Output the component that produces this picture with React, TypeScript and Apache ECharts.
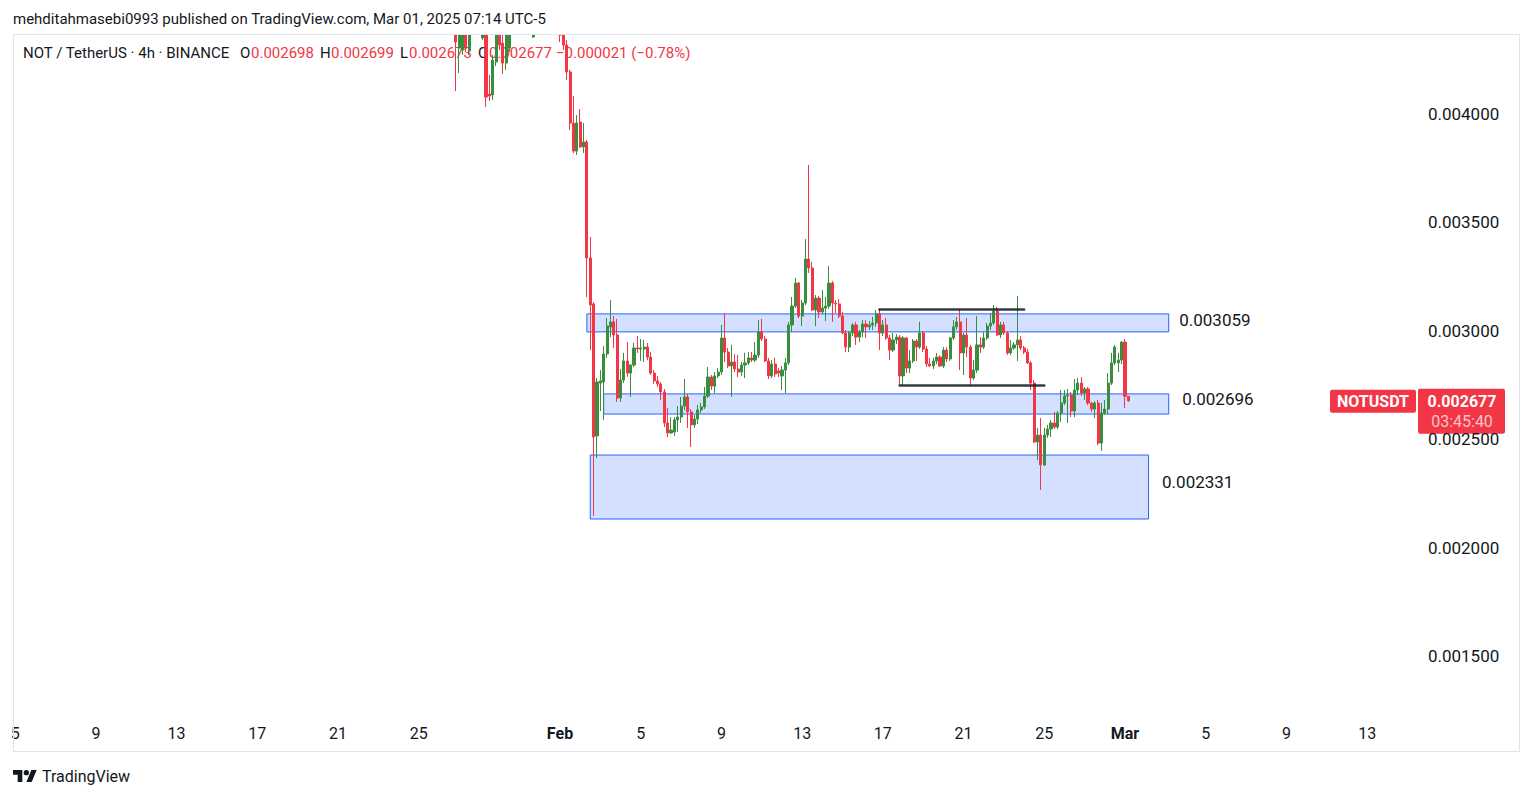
import React, { useEffect, useRef } from 'react';
import * as echarts from 'echarts';

const FONT = "Roboto, 'Noto Sans', 'DejaVu Sans', sans-serif";
const UP = '#388e3c';
const DOWN = '#f23645';
const TEXT = '#131722';

// 4h slots, first slot = Jan 5 2025 03:00 (UTC-5 session)
const SLOT_START_MS = Date.UTC(2025, 0, 5, 3, 0);
const SLOT_MS = 4 * 3600 * 1000;
const SLOT_COUNT = 417;
const CATEGORIES: string[] = Array.from({ length: SLOT_COUNT }, (_, i) =>
  new Date(SLOT_START_MS + i * SLOT_MS).toISOString().slice(0, 16).replace('T', ' ')
);

const X_TICKS: [number, string][] = [
  [0, '5'], [24, '9'], [48, '13'], [72, '17'], [96, '21'], [120, '25'],
  [162, 'Feb'], [186, '5'], [210, '9'], [234, '13'], [258, '17'], [282, '21'], [306, '25'],
  [330, 'Mar'], [354, '5'], [378, '9'], [402, '13'],
];
const MONTH_TICKS = ['Feb', 'Mar'];
const Y_TICKS = [0.0015, 0.002, 0.0025, 0.003, 0.0035, 0.004];
const Y_MIN = 0.0012279;
const Y_MAX = 0.0043644;

const FIRST_SLOT = 131;
// [open, close, low, high]
const CANDLES: number[][] = [
  [0.004434, 0.004332, 0.004106, 0.004480],
  [0.004304, 0.004411, 0.004189, 0.004457],
  [0.004295, 0.004388, 0.004272, 0.004434],
  [0.004388, 0.004304, 0.004286, 0.004434],
  [0.004295, 0.004397, 0.004272, 0.004434],
  [0.004420, 0.004470, 0.004380, 0.004500],
  [0.004470, 0.004450, 0.004400, 0.004520],
  [0.004450, 0.004410, 0.004370, 0.004480],
  [0.004351, 0.004411, 0.004341, 0.004440],
  [0.004411, 0.004078, 0.004032, 0.004440],
  [0.004092, 0.004083, 0.004060, 0.004180],
  [0.004088, 0.004249, 0.004065, 0.004272],
  [0.004240, 0.004388, 0.004221, 0.004430],
  [0.004388, 0.004318, 0.004295, 0.004420],
  [0.004327, 0.004235, 0.004185, 0.004388],
  [0.004235, 0.004388, 0.004203, 0.004410],
  [0.004304, 0.004411, 0.004286, 0.004450],
  [0.004411, 0.004440, 0.004380, 0.004480],
  [0.004440, 0.004470, 0.004400, 0.004510],
  [0.004470, 0.004500, 0.004430, 0.004540],
  [0.004500, 0.004460, 0.004420, 0.004530],
  [0.004460, 0.004430, 0.004390, 0.004490],
  [0.004430, 0.004400, 0.004375, 0.004460],
  [0.004355, 0.004410, 0.004351, 0.004450],
  [0.004410, 0.004440, 0.004370, 0.004470],
  [0.004440, 0.004480, 0.004410, 0.004510],
  [0.004480, 0.004460, 0.004420, 0.004500],
  [0.004460, 0.004490, 0.004430, 0.004520],
  [0.004490, 0.004450, 0.004410, 0.004510],
  [0.004450, 0.004430, 0.004390, 0.004470],
  [0.004430, 0.004420, 0.004380, 0.004460],
  [0.004434, 0.004364, 0.004332, 0.004450],
  [0.004364, 0.004318, 0.004295, 0.004411],
  [0.004318, 0.004194, 0.004157, 0.004341],
  [0.004194, 0.003958, 0.003926, 0.004203],
  [0.003958, 0.003829, 0.003820, 0.004083],
  [0.003829, 0.003958, 0.003811, 0.003995],
  [0.003963, 0.003848, 0.003843, 0.004023],
  [0.003848, 0.003871, 0.003820, 0.003958],
  [0.003871, 0.003336, 0.003156, 0.003880],
  [0.003336, 0.003119, 0.002911, 0.003433],
  [0.003124, 0.002510, 0.002146, 0.003133],
  [0.002515, 0.002764, 0.002413, 0.002782],
  [0.002759, 0.002769, 0.002630, 0.002819],
  [0.002764, 0.002893, 0.002589, 0.002930],
  [0.002893, 0.003022, 0.002875, 0.003059],
  [0.003018, 0.003041, 0.002971, 0.003142],
  [0.003041, 0.002981, 0.002921, 0.003068],
  [0.002981, 0.002690, 0.002672, 0.003055],
  [0.002690, 0.002773, 0.002672, 0.002824],
  [0.002773, 0.002861, 0.002759, 0.002898],
  [0.002861, 0.002805, 0.002787, 0.002948],
  [0.002805, 0.002842, 0.002695, 0.002846],
  [0.002842, 0.002921, 0.002833, 0.002944],
  [0.002921, 0.002916, 0.002898, 0.002976],
  [0.002916, 0.002921, 0.002861, 0.002962],
  [0.002916, 0.002925, 0.002856, 0.002958],
  [0.002925, 0.002879, 0.002865, 0.002944],
  [0.002879, 0.002805, 0.002796, 0.002902],
  [0.002805, 0.002769, 0.002755, 0.002819],
  [0.002769, 0.002755, 0.002741, 0.002792],
  [0.002755, 0.002718, 0.002681, 0.002764],
  [0.002718, 0.002575, 0.002556, 0.002732],
  [0.002575, 0.002529, 0.002510, 0.002644],
  [0.002529, 0.002542, 0.002524, 0.002602],
  [0.002533, 0.002589, 0.002515, 0.002602],
  [0.002589, 0.002602, 0.002533, 0.002653],
  [0.002602, 0.002653, 0.002575, 0.002695],
  [0.002653, 0.002695, 0.002635, 0.002778],
  [0.002695, 0.002626, 0.002552, 0.002709],
  [0.002626, 0.002566, 0.002464, 0.002639],
  [0.002566, 0.002593, 0.002552, 0.002612],
  [0.002593, 0.002635, 0.002570, 0.002658],
  [0.002635, 0.002649, 0.002621, 0.002667],
  [0.002649, 0.002699, 0.002639, 0.002741],
  [0.002699, 0.002787, 0.002690, 0.002833],
  [0.002787, 0.002745, 0.002727, 0.002796],
  [0.002745, 0.002792, 0.002713, 0.002810],
  [0.002792, 0.002810, 0.002782, 0.002828],
  [0.002810, 0.002967, 0.002796, 0.003027],
  [0.002967, 0.002902, 0.002856, 0.003082],
  [0.002902, 0.002838, 0.002828, 0.002921],
  [0.002838, 0.002856, 0.002695, 0.002935],
  [0.002856, 0.002824, 0.002810, 0.002893],
  [0.002824, 0.002810, 0.002787, 0.002888],
  [0.002810, 0.002842, 0.002792, 0.002856],
  [0.002842, 0.002852, 0.002782, 0.002898],
  [0.002852, 0.002875, 0.002842, 0.002902],
  [0.002875, 0.002865, 0.002856, 0.002902],
  [0.002865, 0.002888, 0.002856, 0.002948],
  [0.002888, 0.002995, 0.002875, 0.003050],
  [0.002995, 0.002962, 0.002953, 0.003055],
  [0.002962, 0.002861, 0.002856, 0.002976],
  [0.002861, 0.002792, 0.002778, 0.002875],
  [0.002792, 0.002847, 0.002782, 0.002865],
  [0.002847, 0.002801, 0.002787, 0.002875],
  [0.002815, 0.002805, 0.002787, 0.002828],
  [0.002792, 0.002819, 0.002727, 0.002838],
  [0.002819, 0.002852, 0.002713, 0.002875],
  [0.002852, 0.003027, 0.002842, 0.003041],
  [0.003027, 0.003114, 0.002995, 0.003156],
  [0.003114, 0.003220, 0.003105, 0.003244],
  [0.003220, 0.003068, 0.003059, 0.003225],
  [0.003068, 0.003128, 0.003022, 0.003142],
  [0.003128, 0.003331, 0.003119, 0.003423],
  [0.003331, 0.003290, 0.003267, 0.003765],
  [0.003290, 0.003096, 0.003091, 0.003317],
  [0.003096, 0.003151, 0.003022, 0.003165],
  [0.003151, 0.003087, 0.003059, 0.003161],
  [0.003087, 0.003105, 0.003078, 0.003188],
  [0.003105, 0.003114, 0.003045, 0.003156],
  [0.003114, 0.003220, 0.003101, 0.003299],
  [0.003220, 0.003128, 0.003041, 0.003230],
  [0.003128, 0.003124, 0.003082, 0.003142],
  [0.003124, 0.003068, 0.003059, 0.003147],
  [0.003068, 0.002990, 0.002985, 0.003087],
  [0.002990, 0.002925, 0.002902, 0.003004],
  [0.002925, 0.002990, 0.002902, 0.002999],
  [0.002990, 0.003027, 0.002976, 0.003036],
  [0.003027, 0.002971, 0.002935, 0.003041],
  [0.002971, 0.002995, 0.002948, 0.003004],
  [0.002995, 0.003031, 0.002971, 0.003050],
  [0.003031, 0.003018, 0.002967, 0.003050],
  [0.003018, 0.003027, 0.003004, 0.003045],
  [0.003027, 0.003036, 0.003004, 0.003064],
  [0.003036, 0.003078, 0.003018, 0.003096],
  [0.003078, 0.002990, 0.002911, 0.003101],
  [0.002990, 0.003027, 0.002976, 0.003050],
  [0.003027, 0.002967, 0.002958, 0.003059],
  [0.002967, 0.002911, 0.002865, 0.002981],
  [0.002911, 0.002958, 0.002902, 0.002990],
  [0.002958, 0.002971, 0.002939, 0.002985],
  [0.002971, 0.002792, 0.002750, 0.002981],
  [0.002792, 0.002967, 0.002750, 0.002976],
  [0.002967, 0.002828, 0.002805, 0.002971],
  [0.002828, 0.002861, 0.002805, 0.002911],
  [0.002861, 0.002953, 0.002852, 0.002962],
  [0.002953, 0.002925, 0.002861, 0.002962],
  [0.002925, 0.002990, 0.002916, 0.003041],
  [0.002990, 0.002916, 0.002902, 0.002999],
  [0.002916, 0.002847, 0.002833, 0.002930],
  [0.002847, 0.002838, 0.002833, 0.002875],
  [0.002838, 0.002861, 0.002824, 0.002875],
  [0.002861, 0.002879, 0.002847, 0.002898],
  [0.002879, 0.002838, 0.002833, 0.002888],
  [0.002838, 0.002911, 0.002828, 0.002925],
  [0.002911, 0.002870, 0.002856, 0.002925],
  [0.002870, 0.002967, 0.002861, 0.002971],
  [0.002967, 0.003018, 0.002958, 0.003050],
  [0.003018, 0.003041, 0.003004, 0.003064],
  [0.003041, 0.002898, 0.002819, 0.003101],
  [0.002898, 0.002981, 0.002796, 0.002990],
  [0.002981, 0.002925, 0.002879, 0.003059],
  [0.002925, 0.002782, 0.002750, 0.002935],
  [0.002782, 0.002819, 0.002773, 0.002865],
  [0.002819, 0.002935, 0.002805, 0.003068],
  [0.002935, 0.002925, 0.002898, 0.002971],
  [0.002925, 0.002967, 0.002916, 0.002995],
  [0.002967, 0.003022, 0.002958, 0.003036],
  [0.003022, 0.003036, 0.003004, 0.003082],
  [0.003036, 0.003091, 0.003027, 0.003119],
  [0.003091, 0.002981, 0.002976, 0.003110],
  [0.002981, 0.003027, 0.002967, 0.003041],
  [0.003027, 0.002990, 0.002981, 0.003041],
  [0.002990, 0.002898, 0.002888, 0.002999],
  [0.002898, 0.002921, 0.002888, 0.002958],
  [0.002921, 0.002935, 0.002911, 0.002948],
  [0.002935, 0.002958, 0.002861, 0.003161],
  [0.002958, 0.002921, 0.002911, 0.002976],
  [0.002921, 0.002902, 0.002893, 0.002930],
  [0.002902, 0.002852, 0.002847, 0.002916],
  [0.002852, 0.002759, 0.002727, 0.002861],
  [0.002759, 0.002487, 0.002482, 0.002773],
  [0.002487, 0.002519, 0.002404, 0.002552],
  [0.002519, 0.002381, 0.002266, 0.002598],
  [0.002381, 0.002519, 0.002376, 0.002552],
  [0.002519, 0.002547, 0.002506, 0.002566],
  [0.002547, 0.002575, 0.002510, 0.002589],
  [0.002575, 0.002556, 0.002547, 0.002626],
  [0.002556, 0.002621, 0.002547, 0.002630],
  [0.002621, 0.002667, 0.002579, 0.002727],
  [0.002667, 0.002699, 0.002658, 0.002727],
  [0.002699, 0.002704, 0.002575, 0.002732],
  [0.002704, 0.002630, 0.002602, 0.002718],
  [0.002630, 0.002727, 0.002602, 0.002778],
  [0.002727, 0.002759, 0.002704, 0.002782],
  [0.002759, 0.002713, 0.002699, 0.002787],
  [0.002713, 0.002732, 0.002681, 0.002741],
  [0.002732, 0.002667, 0.002658, 0.002741],
  [0.002667, 0.002639, 0.002626, 0.002672],
  [0.002639, 0.002667, 0.002598, 0.002676],
  [0.002667, 0.002482, 0.002473, 0.002681],
  [0.002482, 0.002621, 0.002446, 0.002667],
  [0.002621, 0.002639, 0.002612, 0.002681],
  [0.002639, 0.002759, 0.002616, 0.002805],
  [0.002759, 0.002852, 0.002750, 0.002898],
  [0.002852, 0.002925, 0.002842, 0.002935],
  [0.002852, 0.002865, 0.002810, 0.002898],
  [0.002865, 0.002948, 0.002847, 0.002953],
  [0.002948, 0.002698, 0.002644, 0.002962],
  [0.002698, 0.002677, 0.002673, 0.002699],
];

// Annotated zones (slot index range, price range)
const ZONE_FROM = [170, 175, 171];
const ZONE_TO = [343, 343, 337];
const ZONE_TOP = [0.003078, 0.002709, 0.002427];
const ZONE_BOTTOM = [0.002995, 0.002616, 0.002132];
const ZONE_LABELS = ['0.003059', '0.002696', '0.002331'];

// Horizontal trend lines
const LEVEL_FROM = [257, 263];
const LEVEL_TO = [300, 306];
const LEVEL_PRICE = [0.003098, 0.002748];

const HEADER = 'mehditahmasebi0993 published on TradingView.com, Mar 01, 2025 07:14 UTC-5';
const SYMBOL_TITLE = 'NOT / TetherUS · 4h · BINANCE';
const SYMBOL = 'NOTUSDT';
const COUNTDOWN = '03:45:40';
const BRAND = 'TradingView';

const TV_LOGO_PATH = 'M14 22H7V11H0V4h14v18zM28 22h-8l7.5-18h8L28 22zM16 8a4 4 0 1 0 8 0a4 4 0 1 0 -8 0z';
echarts.graphic.registerShape('tvlogo', echarts.graphic.extendPath(TV_LOGO_PATH, {}));

const ZONE_LABEL_DIST = [10, 13, 13];
const ZONE_LABEL_DY = [-3, -5, -5];

function fmt(v: number) {
  return (v < 0 ? '\u2212' : '') + Math.abs(v).toFixed(6);
}

export default function App() {
  const ref = useRef<HTMLDivElement>(null);

  useEffect(() => {
    const chart = echarts.init(ref.current as HTMLDivElement, null, { renderer: 'svg' });
    const tickMap = new Map<number, string>(X_TICKS);
    const last = CANDLES[CANDLES.length - 1];
    const prevClose = CANDLES[CANDLES.length - 2][1];
    const change = last[1] - prevClose;
    const pct = (change / prevClose) * 100;

    const option: any = {
      animation: false,
      backgroundColor: '#ffffff',
      grid: { left: 13.5, right: 118.1, top: 35, bottom: 83, containLabel: false },
      xAxis: {
        type: 'category',
        data: CATEGORIES,
        boundaryGap: true,
        axisLine: { show: false },
        axisTick: { show: false },
        splitLine: { show: false },
        axisLabel: {
          interval: (idx: number) => tickMap.has(idx),
          formatter: (_v: string, idx: number) => {
            const t = tickMap.get(idx) || '';
            return MONTH_TICKS.includes(t) ? `{m|${t}}` : t;
          },
          color: TEXT,
          fontSize: 16,
          fontFamily: FONT,
          margin: 10,
          rich: { m: { fontWeight: 'bold', fontSize: 16, color: TEXT, fontFamily: FONT } },
        },
      },
      yAxis: {
        type: 'value',
        position: 'right',
        min: Y_MIN,
        max: Y_MAX,
        axisLine: { show: false },
        axisTick: { show: false },
        splitLine: { show: false },
        axisLabel: {
          customValues: Y_TICKS,
          formatter: (v: number) => v.toFixed(6),
          margin: 12,
          color: TEXT,
          fontSize: 17,
          fontFamily: FONT,
        },
      },
      series: [
        {
          type: 'candlestick',
          clip: true,
          data: CANDLES.map((c, k) => [FIRST_SLOT + k, c[0], c[1], c[2], c[3]]),
          encode: { x: 0, y: [1, 2, 3, 4] },
          barWidth: '78%',
          itemStyle: { color: UP, color0: DOWN, borderColor: UP, borderColor0: DOWN, borderWidth: 1 },
          markArea: {
            silent: true,
            itemStyle: { color: 'rgba(41,98,255,0.2)', borderColor: '#2962ff', borderWidth: 1 },
            label: { show: true, position: 'right', color: TEXT, fontSize: 17, fontFamily: FONT },
            data: ZONE_LABELS.map((name, k) => [
              {
                name,
                coord: [ZONE_FROM[k], ZONE_TOP[k]],
                label: { distance: ZONE_LABEL_DIST[k], offset: [0, ZONE_LABEL_DY[k]] },
              },
              { coord: [ZONE_TO[k], ZONE_BOTTOM[k]] },
            ]),
          },
          markLine: {
            silent: true,
            symbol: ['none', 'none'],
            label: { show: false },
            data: [
              { yAxis: last[1], lineStyle: { color: DOWN, type: [1, 2], width: 1 } },
              ...LEVEL_PRICE.map((p, k) => [
                { coord: [LEVEL_FROM[k], p], lineStyle: { color: 'rgba(19,23,34,0.85)', width: 2.5, type: 'solid', cap: 'round' } },
                { coord: [LEVEL_TO[k], p] },
              ]),
            ],
          },
        },
      ],
    };

    chart.setOption(option);
    const yPx = chart.convertToPixel({ yAxisIndex: 0 }, last[1]) as number;

    const legendItems: [number, string, string][] = [
      [23, SYMBOL_TITLE, TEXT],
      [240, 'O', TEXT], [251, fmt(last[0]), DOWN],
      [320, 'H', TEXT], [331, fmt(last[3]), DOWN],
      [400, 'L', TEXT], [409, fmt(last[2]), DOWN],
      [478, 'C', TEXT], [489, fmt(last[1]), DOWN],
      [556, `${fmt(change)} (${pct < 0 ? '\u2212' : '+'}${Math.abs(pct).toFixed(2)}%)`, DOWN],
    ];

    const graphics: any[] = [
      // cover for candle parts that overflow above the pane
      {
        type: 'rect', silent: true, z: 50,
        shape: { x: 0, y: 0, width: 1534, height: 34.5 },
        style: { fill: '#ffffff' },
      },
      {
        type: 'rect', silent: true, z: 51,
        shape: { x: 13.5, y: 34.5, width: 1506, height: 717 },
        style: { fill: 'none', stroke: '#e0e3eb', lineWidth: 1 },
      },
      {
        type: 'text', silent: true, x: 13, y: 19, z: 52,
        style: { text: HEADER, fill: TEXT, fontSize: 15, fontFamily: FONT, align: 'left', verticalAlign: 'middle' },
      },
      ...legendItems.map(([x, t, c]) => ({
        type: 'text', silent: true, x, y: 53,
        style: { text: t, fill: c, fontSize: 15, fontFamily: FONT, align: 'left', verticalAlign: 'middle' },
      })),
      {
        type: 'tvlogo', silent: true, x: 13, y: 767.3, scaleX: 0.667, scaleY: 0.667,
        style: { fill: TEXT },
      },
      {
        type: 'text', silent: true, x: 42, y: 776,
        style: { text: BRAND, fill: TEXT, fontSize: 16, fontFamily: FONT, align: 'left', verticalAlign: 'middle' },
      },
      {
        type: 'group', z: 20,
        children: [
          { type: 'rect', shape: { x: 1330, y: yPx - 11, width: 86, height: 23, r: 2 }, style: { fill: DOWN } },
          {
            type: 'text', x: 1373, y: yPx + 1,
            style: { text: SYMBOL, fill: '#ffffff', fontSize: 16, fontWeight: 'bold', fontFamily: FONT, align: 'center', verticalAlign: 'middle' },
          },
          { type: 'rect', shape: { x: 1418, y: yPx - 12, width: 87, height: 45, r: 2 }, style: { fill: DOWN } },
          {
            type: 'text', x: 1462, y: yPx + 1,
            style: { text: fmt(last[1]), fill: '#ffffff', fontSize: 16, fontWeight: 'bold', fontFamily: FONT, align: 'center', verticalAlign: 'middle' },
          },
          {
            type: 'text', x: 1462, y: yPx + 21,
            style: { text: COUNTDOWN, fill: 'rgba(255,255,255,0.72)', fontSize: 16, fontFamily: FONT, align: 'center', verticalAlign: 'middle' },
          },
        ],
      },
    ];
    chart.setOption({ graphic: graphics });

    return () => chart.dispose();
  }, []);

  return (
    <div
      ref={ref}
      style={{ position: 'fixed', left: 0, top: 0, width: 1534, height: 798, background: '#ffffff' }}
    />
  );
}
